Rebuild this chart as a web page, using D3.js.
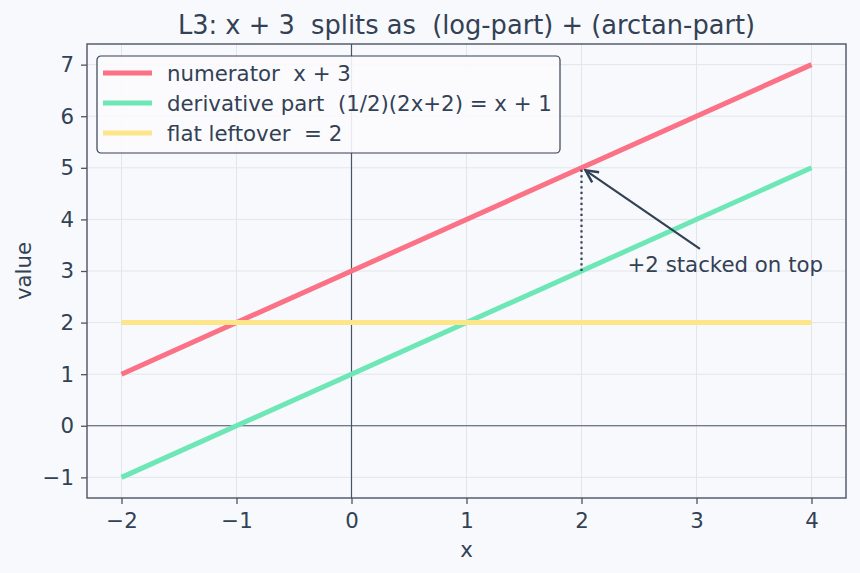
<!DOCTYPE html>
<html lang="en">
<head>
<meta charset="UTF-8">
<title>L3 split</title>
<script src="https://d3js.org/d3.v7.min.js"></script>
<style>
    body { margin: 0; background: #f8f9fc; }
    svg text { font-family: 'DejaVu Sans', sans-serif; fill: #334155; white-space: pre; }
</style>
</head>
<body>
<script>
    // data
    const xs = [-2, 4];
    const numerator = [1, 7];      // x + 3
    const derivative = [-1, 5];    // x + 1
    const leftover = [2, 2];       // flat 2
    const seriesNames = ["numerator  x + 3", "derivative part  (1/2)(2x+2) = x + 1", "flat leftover  = 2"];
    const seriesColors = ["#fb7185", "#6ee7b7", "#fde68a"];
    const xTicks = [-2, -1, 0, 1, 2, 3, 4];
    const yTicks = [-1, 0, 1, 2, 3, 4, 5, 6, 7];
    const gapX = 2, gapLow = 3, gapHigh = 5;
    const noteText = "+2 stacked on top";
    const noteAt = [2.4, 2.98];
    const arrowFrom = [3.03, 3.43];

    const W = 860, H = 573;
    const margin = {top: 44, right: 14, bottom: 75, left: 87};
    const width = W - margin.left - margin.right,
          height = H - margin.top - margin.bottom;
    const fs = "21.3px";

    const svg = d3.select("body").append("svg")
        .attr("width", W).attr("height", H);
    svg.append("rect").attr("width", W).attr("height", H).attr("fill", "#f8f9fc");

    const g = svg.append("g").attr("transform", `translate(${margin.left},${margin.top})`);

    const x = d3.scaleLinear().domain([-2.3, 4.3]).range([0, width]);
    const y = d3.scaleLinear().domain([-1.4, 7.4]).range([height, 0]);
    const fmt = d => d < 0 ? "\u2212" + Math.abs(d) : String(d);

    // grid
    g.append("g").selectAll("line").data(xTicks).join("line")
        .attr("x1", d => x(d)).attr("x2", d => x(d))
        .attr("y1", 0).attr("y2", height)
        .attr("stroke", "#e2e5ec").attr("stroke-width", 1);
    g.append("g").selectAll("line").data(yTicks).join("line")
        .attr("y1", d => y(d)).attr("y2", d => y(d))
        .attr("x1", 0).attr("x2", width)
        .attr("stroke", "#e2e5ec").attr("stroke-width", 1);

    // zero lines
    g.append("line").attr("x1", x(0)).attr("x2", x(0)).attr("y1", 0).attr("y2", height)
        .attr("stroke", "#475569").attr("stroke-width", 1.2);
    g.append("line").attr("y1", y(0)).attr("y2", y(0)).attr("x1", 0).attr("x2", width)
        .attr("stroke", "#475569").attr("stroke-width", 1.2);

    // lines
    const line = d3.line().x(d => x(d[0])).y(d => y(d[1]));
    [numerator, derivative, leftover].forEach((vals, i) => {
        g.append("path")
            .datum(xs.map((v, j) => [v, vals[j]]))
            .attr("fill", "none")
            .attr("stroke", seriesColors[i])
            .attr("stroke-width", 5)
            .attr("d", line);
    });

    // dotted gap
    g.append("line")
        .attr("x1", x(gapX)).attr("x2", x(gapX))
        .attr("y1", y(gapLow)).attr("y2", y(gapHigh))
        .attr("stroke", "#334155").attr("stroke-width", 2.2)
        .attr("stroke-dasharray", "2.2,3.3");

    // arrow
    svg.append("defs").append("marker")
        .attr("id", "arr").attr("viewBox", "0 0 10 10")
        .attr("refX", 9).attr("refY", 5)
        .attr("markerWidth", 7).attr("markerHeight", 7)
        .attr("orient", "auto")
        .append("path").attr("d", "M1,1 L9,5 L1,9")
        .attr("fill", "none").attr("stroke", "#334155").attr("stroke-width", 1.6);
    g.append("line")
        .attr("x1", x(arrowFrom[0])).attr("y1", y(arrowFrom[1]))
        .attr("x2", x(gapX) + 4).attr("y2", y(gapHigh) + 2.5)
        .attr("stroke", "#334155").attr("stroke-width", 2.2)
        .attr("marker-end", "url(#arr)");
    g.append("text")
        .attr("x", x(noteAt[0])).attr("y", y(noteAt[1]))
        .style("font-size", fs)
        .text(noteText);

    // axes
    const xAxis = g.append("g").attr("transform", `translate(0,${height})`)
        .call(d3.axisBottom(x).tickValues(xTicks).tickFormat(fmt).tickSize(6).tickPadding(9));
    const yAxis = g.append("g")
        .call(d3.axisLeft(y).tickValues(yTicks).tickFormat(fmt).tickSize(6).tickPadding(7));
    [xAxis, yAxis].forEach(a => {
        a.select(".domain").remove();
        a.selectAll(".tick line").attr("stroke", "#4b5563").attr("stroke-width", 1.3);
        a.selectAll("text").style("font-size", fs).style("font-family", "DejaVu Sans").attr("fill", "#334155");
    });

    // frame
    g.append("rect").attr("width", width).attr("height", height)
        .attr("fill", "none").attr("stroke", "#4b5563").attr("stroke-width", 1.4);

    // labels
    svg.append("text")
        .attr("x", margin.left + width / 2).attr("y", 34)
        .attr("text-anchor", "middle")
        .style("font-size", "25.7px")
        .text("L3: x + 3  splits as  (log-part) + (arctan-part)");
    svg.append("text")
        .attr("x", margin.left + width / 2).attr("y", 557)
        .attr("text-anchor", "middle")
        .style("font-size", fs)
        .text("x");
    svg.append("text")
        .attr("transform", `translate(31,${margin.top + height / 2}) rotate(-90)`)
        .attr("text-anchor", "middle")
        .style("font-size", fs)
        .text("value");

    // legend
    const lg = svg.append("g").attr("transform", "translate(97,56)");
    lg.append("rect").attr("width", 463).attr("height", 97).attr("rx", 4)
        .attr("fill", "#fbfbfd").attr("fill-opacity", 0.9)
        .attr("stroke", "#334155").attr("stroke-width", 1.2);
    seriesNames.forEach((name, i) => {
        const yy = 17 + i * 30;
        lg.append("line").attr("x1", 6).attr("x2", 55).attr("y1", yy).attr("y2", yy)
            .attr("stroke", seriesColors[i]).attr("stroke-width", 5);
        lg.append("text").attr("x", 70).attr("y", yy + 7.5)
            .style("font-size", fs).text(name);
    });
</script>
</body>
</html>
